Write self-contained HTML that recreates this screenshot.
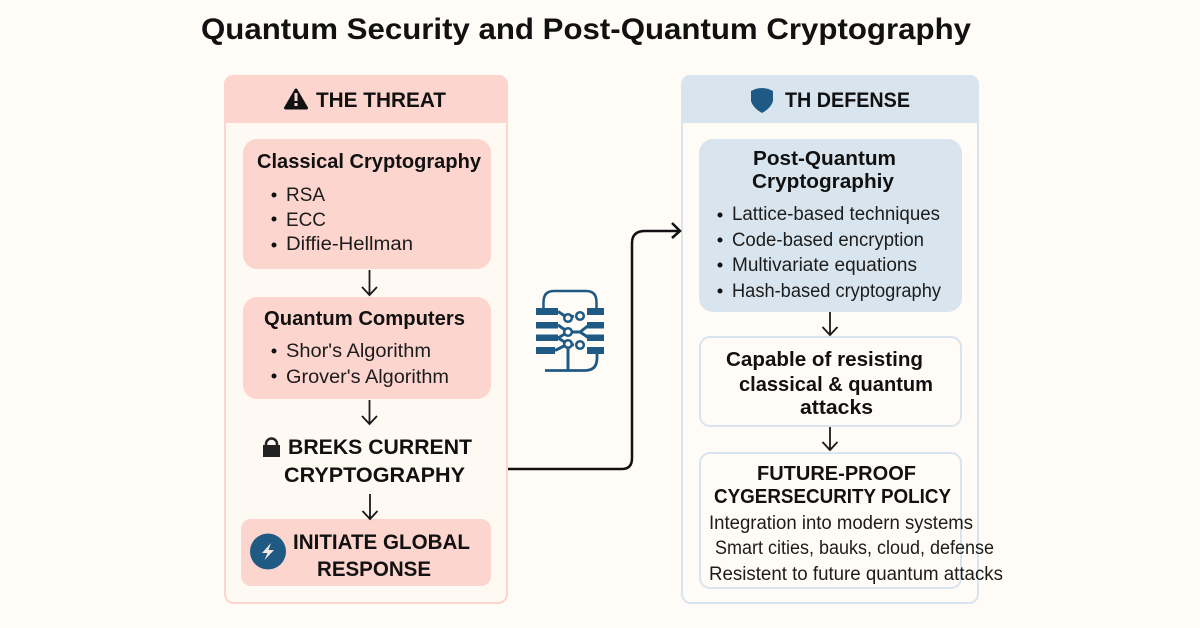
<!DOCTYPE html>
<html>
<head>
<meta charset="utf-8">
<style>
html,body{margin:0;padding:0;background:#fffcf7}
svg{display:block}
text{font-family:"Liberation Sans",sans-serif;fill:#111}
.b{font-weight:700}
.t{font-size:19px;fill:#1c1c1c}
.h{font-size:21px;font-weight:700}
</style>
</head>
<body>
<svg width="1200" height="628" viewBox="0 0 1200 628" xmlns="http://www.w3.org/2000/svg">
<rect width="1200" height="628" fill="#fffcf7"/>
<text class="b" x="201" y="39" font-size="30" textLength="770" lengthAdjust="spacingAndGlyphs">Quantum Security and Post-Quantum Cryptography</text>

<!-- Left panel -->
<rect x="225" y="76" width="282" height="527" rx="9" fill="#fff9f4" stroke="#fdd5cf" stroke-width="2"/>
<path d="M224 123V84a9 9 0 0 1 9-9H499a9 9 0 0 1 9 9V123Z" fill="#fdd5cf"/>
<path d="M296 90L285.500 108H306.500Z" fill="#111" stroke="#111" stroke-width="3" stroke-linejoin="round"/>
<rect x="294.500" y="93" width="3" height="8" fill="#fdd5cf"/><rect x="294.500" y="103" width="3" height="3" fill="#fdd5cf"/>
<text class="h" x="316" y="107" textLength="130" lengthAdjust="spacingAndGlyphs">THE THREAT</text>

<rect x="243" y="139" width="248" height="130" rx="14" fill="#fdd5cf"/>
<text class="b" x="257" y="168" font-size="20" textLength="224" lengthAdjust="spacingAndGlyphs">Classical Cryptography</text>
<text class="t" x="286" y="201" textLength="39" lengthAdjust="spacingAndGlyphs">RSA</text>
<text class="t" x="286" y="226" textLength="40" lengthAdjust="spacingAndGlyphs">ECC</text>
<text class="t" x="286" y="250" textLength="127" lengthAdjust="spacingAndGlyphs">Diffie-Hellman</text>

<rect x="243" y="297" width="248" height="102" rx="14" fill="#fdd5cf"/>
<text class="b" x="264" y="325" font-size="20" textLength="201" lengthAdjust="spacingAndGlyphs">Quantum Computers</text>
<text class="t" x="286" y="357" textLength="145" lengthAdjust="spacingAndGlyphs">Shor's Algorithm</text>
<text class="t" x="286" y="383" textLength="163" lengthAdjust="spacingAndGlyphs">Grover's Algorithm</text>
<g fill="#111"><circle cx="274" cy="195" r="2.500"/><circle cx="274" cy="219" r="2.500"/><circle cx="274" cy="245" r="2.500"/><circle cx="274" cy="351" r="2.500"/><circle cx="274" cy="376" r="2.500"/></g>

<path d="M263 445V457H280V445Z" fill="#222"/>
<path d="M266 446V444a5.500 5.500 0 0 1 11 0V446" fill="none" stroke="#222" stroke-width="2.500"/>
<text class="h" x="288" y="454" textLength="184" lengthAdjust="spacingAndGlyphs">BREKS CURRENT</text>
<text class="h" x="284" y="482" textLength="181" lengthAdjust="spacingAndGlyphs">CRYPTOGRAPHY</text>

<rect x="241" y="519" width="250" height="67" rx="10" fill="#fdd5cf"/>
<circle cx="268" cy="551.500" r="18" fill="#1f5a85"/>
<path d="M271 543L262 553H267.500L264.500 560L274 550H268.500Z" fill="#f3e9e4"/>
<text class="h" x="293" y="549" textLength="177" lengthAdjust="spacingAndGlyphs">INITIATE GLOBAL</text>
<text class="h" x="317" y="576" textLength="114" lengthAdjust="spacingAndGlyphs">RESPONSE</text>

<!-- Right panel -->
<rect x="682" y="76" width="296" height="527" rx="9" fill="#fffcf7" stroke="#d9e5ee" stroke-width="2"/>
<path d="M681 123V84a9 9 0 0 1 9-9H970a9 9 0 0 1 9 9V123Z" fill="#d9e5ee"/>
<path d="M751 91Q762 85 773 91V101Q771 108 762 113Q753 108 751 101Z" fill="#1f5a85"/>
<text class="h" x="785" y="107" textLength="125" lengthAdjust="spacingAndGlyphs">TH DEFENSE</text>

<rect x="699" y="139" width="263" height="173" rx="14" fill="#d9e5ee"/>
<text class="b" x="753" y="165" font-size="20" textLength="143" lengthAdjust="spacingAndGlyphs">Post-Quantum</text>
<text class="b" x="752" y="188" font-size="20" textLength="142" lengthAdjust="spacingAndGlyphs">Cryptographiy</text>
<g fill="#111"><circle cx="720" cy="215" r="2.500"/><circle cx="720" cy="240" r="2.500"/><circle cx="720" cy="265" r="2.500"/><circle cx="720" cy="291" r="2.500"/></g>
<text class="t" x="732" y="220" textLength="208" lengthAdjust="spacingAndGlyphs">Lattice-based techniques</text>
<text class="t" x="732" y="246" textLength="192" lengthAdjust="spacingAndGlyphs">Code-based encryption</text>
<text class="t" x="732" y="271" textLength="185" lengthAdjust="spacingAndGlyphs">Multivariate equations</text>
<text class="t" x="732" y="297" textLength="209" lengthAdjust="spacingAndGlyphs">Hash-based cryptography</text>

<rect x="700" y="337" width="261" height="89" rx="10" fill="#fffcf7" stroke="#d9e5ee" stroke-width="2"/>
<text class="b" x="726" y="366" font-size="20" textLength="197" lengthAdjust="spacingAndGlyphs">Capable of resisting</text>
<text class="b" x="739" y="391" font-size="20" textLength="194" lengthAdjust="spacingAndGlyphs">classical &amp; quantum</text>
<text class="b" x="800" y="414" font-size="20" textLength="73" lengthAdjust="spacingAndGlyphs">attacks</text>

<rect x="700" y="453" width="261" height="135" rx="10" fill="#fffcf7" stroke="#d9e5ee" stroke-width="2"/>
<text class="b" x="757" y="480" font-size="20" textLength="159" lengthAdjust="spacingAndGlyphs">FUTURE-PROOF</text>
<text class="b" x="714" y="503" font-size="20" textLength="237" lengthAdjust="spacingAndGlyphs">CYGERSECURITY POLICY</text>
<text class="t" x="709" y="529" textLength="264" lengthAdjust="spacingAndGlyphs">Integration into modern systems</text>
<text class="t" x="715" y="554" textLength="279" lengthAdjust="spacingAndGlyphs">Smart cities, bauks, cloud, defense</text>
<text class="t" x="709" y="580" textLength="294" lengthAdjust="spacingAndGlyphs">Resistent to future quantum attacks</text>

<!-- Vertical arrows -->
<g fill="none" stroke="#1a1a1a" stroke-width="1.800">
<path d="M369.500 270V295M362 287L369.500 295L377 287"/>
<path d="M369.500 400V424M362 416L369.500 424L377 416"/>
<path d="M370 494V519M362.500 511L370 519L377.500 511"/>
<path d="M830 312V335M822.500 327L830 335L837.500 327"/>
<path d="M830 427V450M822.500 442L830 450L837.500 442"/>
</g>

<!-- Connector -->
<path d="M508 469H622Q632 469 632 458V243Q632 231 645 231H678" fill="none" stroke="#111" stroke-width="2.500"/>
<path d="M672 223L680 231L672 238" fill="none" stroke="#111" stroke-width="2.500"/>

<!-- Chip icon -->
<g fill="none" stroke="#1f5a85">
<path d="M543.500 309V302Q543.500 291 554 291H586Q596.500 291 596.500 302V309" stroke-width="2.500"/>
<path d="M545 370.500H585Q597 370.500 597 358V352" stroke-width="2.800"/>
<path d="M568 348V370" stroke-width="3"/>
<path d="M558 311.500L568 318M558 325L568 332M558 338L568 344M555 350.500L568 344M558 338L568 332M574 316L568 318M574 345L568 344M589 325L580 332H568M589 338L580 332" stroke-width="3"/>
</g>
<g fill="#1f5a85">
<rect x="536" y="308" width="22" height="7"/><rect x="536" y="322" width="22" height="6.500"/><rect x="536" y="334.500" width="22" height="6.500"/><rect x="536" y="347" width="19" height="7"/>
<rect x="587" y="308" width="17" height="7"/><rect x="587" y="322" width="17" height="6.500"/><rect x="587" y="334.500" width="17" height="6.500"/><rect x="587" y="347" width="17" height="7"/>
</g>
<g fill="#fffcf7" stroke="#1f5a85" stroke-width="2.500">
<circle cx="568" cy="318" r="3.800"/><circle cx="580" cy="316" r="3.800"/><circle cx="568" cy="332" r="3.800"/><circle cx="568" cy="344" r="3.800"/><circle cx="580" cy="345" r="3.800"/>
</g>
</svg>
</body>
</html>
